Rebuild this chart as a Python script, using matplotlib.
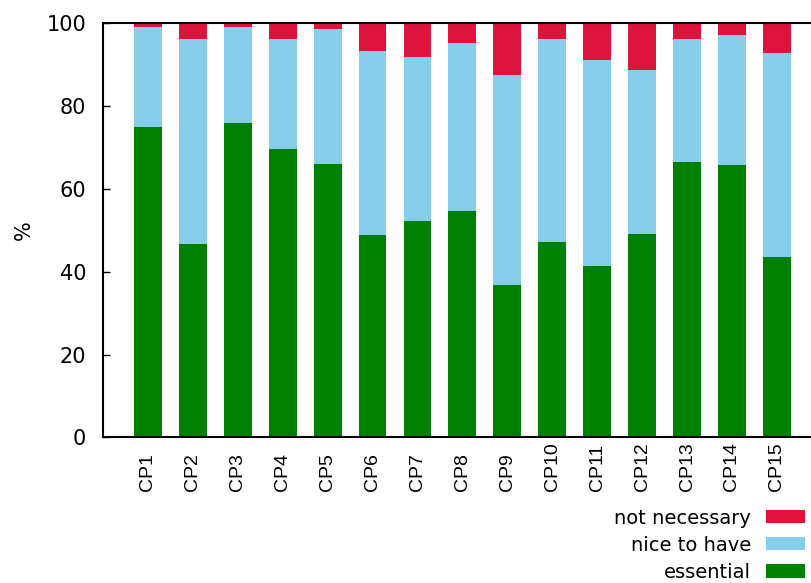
import numpy as np
import matplotlib
matplotlib.use("Agg")
import matplotlib.pyplot as plt

categories = ["CP%d" % i for i in range(1, 16)]
essential = [74.9, 46.7, 75.9, 69.6, 66.0, 48.9, 52.2, 54.6, 36.8, 47.2, 41.4, 49.1, 66.5, 65.7, 43.5]
nice_top = [99.0, 96.1, 99.0, 96.1, 98.6, 93.2, 91.8, 95.2, 87.5, 96.1, 91.1, 88.7, 96.1, 97.1, 92.8]
nice = [t - e for t, e in zip(nice_top, essential)]
not_necessary = [100 - t for t in nice_top]

plt.rcParams['font.family'] = ['DejaVu Sans']

fig = plt.figure(figsize=(8.11, 5.83), dpi=100)
ax = fig.add_axes([0.127, 0.2496, 0.873, 0.711])

x = np.arange(len(categories))
w = 0.62
b1 = ax.bar(x, essential, w, color='#008000', label='essential')
b2 = ax.bar(x, nice, w, bottom=essential, color='#87CEEB', label='nice to have')
b3 = ax.bar(x, not_necessary, w, bottom=nice_top, color='#DC143C', label='not necessary')

ax.set_xlim(-1, 14.76)
ax.set_ylim(0, 100)
ax.set_yticks([0, 20, 40, 60, 80, 100])
ax.tick_params(axis='y', direction='in', length=5, width=1, pad=12, labelsize=15)
ax.set_xticks(x)
ax.set_xticklabels(categories, rotation=90, va='bottom', ha='center',
                   family='Liberation Sans', fontsize=14)
ax.tick_params(axis='x', length=0, pad=38.5)
ax.spines['right'].set_visible(False)
for s in ['top', 'left', 'bottom']:
    ax.spines[s].set_linewidth(1.5)
ax.set_ylabel('%', fontsize=15, labelpad=9)

fig.legend([b3, b2, b1], ['not necessary', 'nice to have', 'essential'],
           loc='lower right', bbox_to_anchor=(0.993, 0.002), frameon=False,
           markerfirst=False, fontsize=14, handlelength=2.0, handleheight=0.67,
           handletextpad=0.8, labelspacing=0.42, borderpad=0, borderaxespad=0)

fig.savefig('out.png', dpi=100)
